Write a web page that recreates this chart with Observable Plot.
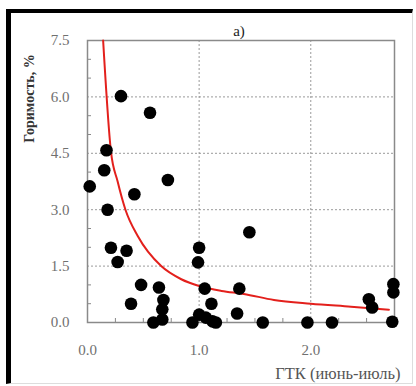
<!DOCTYPE html>
<html>
<head>
<meta charset="utf-8">
<script src="https://cdn.jsdelivr.net/npm/d3@7"></script>
<script src="https://cdn.jsdelivr.net/npm/@observablehq/plot@0.6"></script>
<style>
  html, body { margin: 0; padding: 0; background: #fff; }
  #wrap { position: relative; width: 416px; height: 386px; overflow: hidden; }
  #wrap svg, #wrap svg text { font-family: "Liberation Serif", "Times New Roman", "DejaVu Serif", serif !important; }
  #border { position: absolute; left: 6px; top: 9px; right: 3px; bottom: 2px;
    border-left: 5px solid #000; border-top: 4px solid #000;
    border-right: 1px solid #ddd; border-bottom: 1px solid #ddd; pointer-events: none; }
</style>
</head>
<body>
<div id="wrap"><div id="border"></div></div>
<script>
// Observed points: ГТК (июнь-июль) vs Горимость, %
const gtk = [0.02, 0.15, 0.17, 0.18, 0.30, 0.21, 0.35, 0.27, 0.42, 0.56, 0.72,
  0.48, 0.39, 0.64, 0.68, 0.67, 0.67, 0.59,
  0.94, 1.00, 1.06, 1.12, 1.15, 1.05, 1.11, 1.00, 0.99,
  1.34, 1.36, 1.45, 1.57, 1.97, 2.19, 2.52, 2.55, 2.74, 2.74, 2.73];
const burn = [3.62, 4.05, 4.58, 3.00, 6.02, 1.99, 1.91, 1.61, 3.41, 5.58, 3.79,
  1.00, 0.50, 0.93, 0.60, 0.35, 0.08, 0.00,
  0.00, 0.21, 0.13, 0.03, 0.00, 0.90, 0.50, 1.99, 1.60,
  0.24, 0.90, 2.40, 0.00, 0.00, 0.00, 0.62, 0.40, 1.02, 0.80, 0.02];

// Trend curve
const trendX = [0.14, 0.21, 0.27, 0.34, 0.45, 0.66, 0.84, 1.00, 1.20, 1.40, 1.67, 2.00, 2.36, 2.70];
const trendY = [7.50, 4.55, 3.75, 3.00, 2.30, 1.50, 1.15, 0.97, 0.84, 0.76, 0.60, 0.50, 0.42, 0.34];

const xTicks = [0, 1, 2];
const yTicks = [0, 1.5, 3, 4.5, 6, 7.5];
const xGrid = [1, 2];
const yGrid = [1.5, 3, 4.5, 6];
const xMinor = [0.25, 0.5, 0.75, 1.25, 1.5, 1.75, 2.25, 2.5];
const yMinor = [0.5, 1, 2, 2.5, 3.5, 4, 5, 5.5, 6.5, 7];

const pts = gtk.map((x, i) => ({x, y: burn[i]}));
const trend = trendX.map((x, i) => ({x, y: trendY[i]}));

const font = "'Liberation Serif', 'Times New Roman', serif";

const chart = Plot.plot({
  width: 416,
  height: 386,
  marginLeft: 87,
  marginRight: 22,
  marginTop: 40,
  marginBottom: 64,
  style: {fontFamily: font, fontSize: "15px", background: "transparent", overflow: "visible"},
  x: {domain: [0, 2.75]},
  y: {domain: [0, 7.5]},
  marks: [
    Plot.gridX(xGrid, {stroke: "#888", strokeOpacity: 0.85, strokeDasharray: "2,2"}),
    Plot.gridY(yGrid, {stroke: "#888", strokeOpacity: 0.85, strokeDasharray: "2,2"}),
    Plot.tickY(yMinor, {y: d => d, stroke: "#888", insetRight: 303}),
    Plot.tickX(xMinor, {x: d => d, stroke: "#888", insetTop: 278}),
    Plot.frame({stroke: "#8a8a8a", strokeWidth: 1.5}),
    Plot.axisY(yTicks, {tickSize: 0, tickPadding: 18, tickFormat: d => d.toFixed(1), fill: "#707070", label: null}),
    Plot.axisX(xTicks, {tickSize: 0, tickPadding: 22, tickFormat: d => d.toFixed(1), fill: "#707070", label: null}),
    Plot.line(trend, {x: "x", y: "y", stroke: "#e3201c", strokeWidth: 2, curve: "monotone-x"}),
    Plot.dot(pts, {x: "x", y: "y", r: 6.3, fill: "#000", stroke: "none"}),
    Plot.text(["а)"], {frameAnchor: "top", lineAnchor: "middle", dx: -2, dy: -9, fontSize: 15, fill: "#222"}),
    Plot.text(["Горимость, %"], {frameAnchor: "top-left", textAnchor: "middle", lineAnchor: "middle", dx: -58, dy: 58, rotate: -90, fontSize: 14, fontWeight: "bold", fill: "#333"}),
    Plot.text(["ГТК (июнь-июль)"], {frameAnchor: "bottom-right", lineAnchor: "middle", dx: 6, dy: 51, textAnchor: "end", fontSize: 16.5, fill: "#555"})
  ]
});
document.getElementById("wrap").prepend(chart);
</script>
</body>
</html>
